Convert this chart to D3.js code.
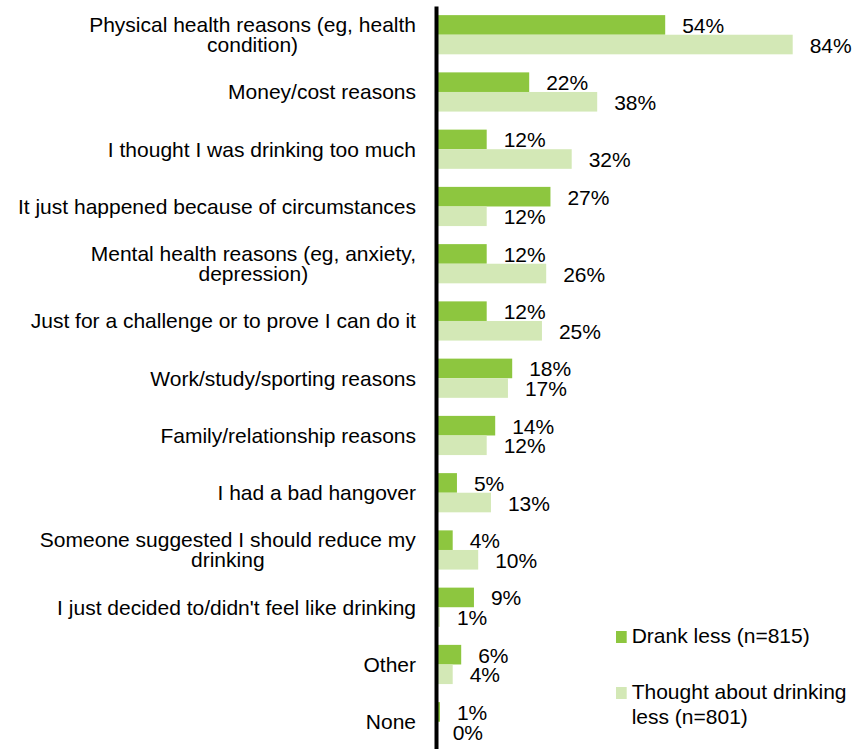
<!DOCTYPE html>
<html>
<head>
<meta charset="utf-8">
<script src="https://cdn.jsdelivr.net/npm/d3@7"></script>
<style>
  body { margin: 0; background: #fff; }
  text { font-family: Arial, "Liberation Sans", sans-serif; fill: #000; }
</style>
</head>
<body>
<script>
// categories, with line breaks as shown in the chart
var categories = [
    "Physical health reasons (eg, health|condition)",
    "Money/cost reasons",
    "I thought I was drinking too much",
    "It just happened because of circumstances",
    "Mental health reasons (eg, anxiety,|depression)",
    "Just for a challenge or to prove I can do it",
    "Work/study/sporting reasons",
    "Family/relationship reasons",
    "I had a bad hangover",
    "Someone suggested I should reduce my|drinking",
    "I just decided to/didn't feel like drinking",
    "Other",
    "None"
]
var drankLess = [54, 22, 12, 27, 12, 12, 18, 14, 5, 4, 9, 6, 1]
var thoughtLess = [84, 38, 32, 12, 26, 25, 17, 12, 13, 10, 1, 4, 0]
var seriesNames = ["Drank less (n=815)", "Thought about drinking|less (n=801)"]
var colors = ["#8dc63f", "#d3e8b6"]

var width = 854, height = 749
var fs = "21px"

var svg = d3.select("body").append("svg")
    .attr("width", width)
    .attr("height", height)

var x = d3.scaleLinear()
    .domain([0, 84])
    .range([435.7, 792.7])

var y = d3.scaleBand()
    .domain(categories)
    .range([6.1, 6.1 + 13 * 57.25])

var barH = 19.6

// rows
var rows = svg.selectAll("g.row")
    .data(categories)
    .enter().append("g")
    .attr("class", "row")
    .attr("transform", function(d) { return "translate(0," + (y(d) + y.bandwidth() / 2) + ")" })

// drank less bars
rows.append("rect")
    .attr("x", x(0))
    .attr("y", -barH)
    .attr("width", function(d, i) { return x(drankLess[i]) - x(0) })
    .attr("height", barH)
    .attr("fill", colors[0])

// thought about bars
rows.append("rect")
    .attr("x", x(0))
    .attr("y", 0)
    .attr("width", function(d, i) { return x(thoughtLess[i]) - x(0) })
    .attr("height", barH)
    .attr("fill", colors[1])

// value labels
rows.append("text")
    .attr("x", function(d, i) { return x(drankLess[i]) + 17 })
    .attr("y", -barH / 2 + 7.9)
    .style("font-size", fs)
    .text(function(d, i) { return drankLess[i] + "%" })

rows.append("text")
    .attr("x", function(d, i) { return x(thoughtLess[i]) + 17 })
    .attr("y", barH / 2 + 8.2)
    .style("font-size", fs)
    .text(function(d, i) { return thoughtLess[i] + "%" })

// category labels (centered multi-line)
rows.each(function(d) {
    var lines = d.split("|")
    var t = d3.select(this).append("text")
        .attr("text-anchor", "middle")
        .style("font-size", fs)
    var lh = 20
    var first = 7.3 - (lines.length - 1) * lh / 2
    lines.forEach(function(line, k) {
        t.append("tspan")
            .attr("x", 0)
            .attr("y", first + k * lh)
            .text(line)
    })
    // right align the block while keeping lines centred on each other
    var w = t.node().getBBox().width
    t.attr("transform", "translate(" + (416 - w / 2) + ",0)")
})

// vertical axis line
svg.append("g")
    .attr("transform", "translate(436,0)")
    .call(d3.axisLeft(d3.scaleLinear().range([6, height])).ticks(0).tickSize(0).tickSizeOuter(0))
    .call(function(g) {
        g.select(".domain").attr("stroke", "#000").attr("stroke-width", 4)
        g.selectAll("text").remove()
    })

// legend
var legendY = [637, 693]
seriesNames.forEach(function(name, i) {
    var g = svg.append("g").attr("transform", "translate(616," + legendY[i] + ")")
    g.append("rect")
        .attr("x", 0)
        .attr("y", -6)
        .attr("width", 10.7)
        .attr("height", 12)
        .attr("fill", colors[i])
    var t = g.append("text").style("font-size", fs)
    name.split("|").forEach(function(line, k) {
        t.append("tspan")
            .attr("x", 15.7)
            .attr("y", 6.3 + k * 24.3)
            .text(line)
    })
})
</script>
</body>
</html>
